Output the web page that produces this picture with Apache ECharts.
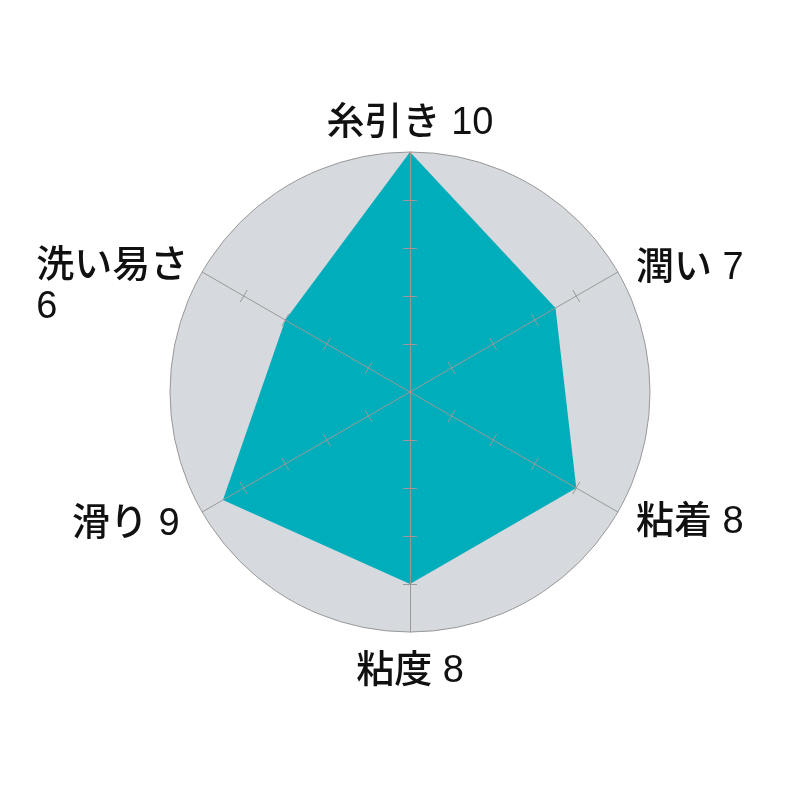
<!DOCTYPE html>
<html>
<head>
<meta charset="utf-8">
<script src="https://cdn.jsdelivr.net/npm/echarts@6/dist/echarts.min.js"></script>
<style>
  html, body { margin: 0; padding: 0; background: #fff; }
  #chart { width: 800px; height: 800px; }
</style>
</head>
<body>
<div id="chart"></div>
<script>
// 項目（上から反時計回り）
var names = ['糸引き', '洗い易さ', '滑り', '粘度', '粘着', '潤い'];
var values = [10, 6, 9, 8, 8, 7];
var maxValue = 10;

var chart = echarts.init(document.getElementById('chart'));

var center = [410, 392];
var radius = 240;
var tickColor = '#999';
var font = "'Liberation Sans', 'Noto Sans CJK JP'";

function labelOf(name) {
  var v = values[names.indexOf(name)];
  // 長い名前は改行して数値を左寄せ
  if (name.length > 3) return '{a|' + name + '}\n{n|' + v + '}';
  return name + ' ' + v;
}

// 項目名の位置の微調整
var nameGaps = [8, 16, 26, 19, 21, 21];
var nameStyles = [
  null,
  { verticalAlign: 'middle', padding: [46, 0, 0, 0] },
  null,
  null,
  null,
  { verticalAlign: 'middle', padding: [14, 0, 0, 0] }
];

// 背景・項目名用
var nameIndicator = names.map(function (n, i) {
  var o = { name: n, max: maxValue, min: 0, nameGap: nameGaps[i] };
  if (nameStyles[i]) o.nameTextStyle = nameStyles[i];
  return o;
});
var plainIndicator = names.map(function (n) {
  return { name: n, max: maxValue, min: 0 };
});
// 目盛りは 2〜8 だけ
var tickIndicator = names.map(function (n) {
  return { name: n, max: 8, min: 2 };
});

var baseRadar = {
  center: center,
  startAngle: 90,
  shape: 'circle',
  axisName: { show: false },
  splitArea: { show: false },
  splitLine: { show: false }
};

var textStyle = { fontSize: 38, lineHeight: 41, color: '#111', fontFamily: font, fontWeight: 500 };

var option = {
  backgroundColor: '#fff',
  radar: [
    {
      center: center,
      radius: radius,
      startAngle: 90,
      shape: 'circle',
      splitNumber: 1,
      indicator: nameIndicator,
      nameGap: 17,
      axisName: Object.assign({}, textStyle, {
        formatter: labelOf,
        rich: {
          a: Object.assign({}, textStyle),
          n: Object.assign({}, textStyle, { width: 150, align: 'left' })
        }
      }),
      splitArea: { show: true, areaStyle: { color: ['#d6d9de'] } },
      splitLine: { show: true, lineStyle: { color: tickColor, width: 1 } },
      axisLine: { show: false },
      axisTick: { show: false },
      z: 0
    },
    Object.assign({}, baseRadar, {
      // 軸線（塗りの上）
      radius: radius,
      splitNumber: 5,
      indicator: plainIndicator,
      axisLine: { show: true, lineStyle: { color: tickColor, width: 1 } },
      axisTick: { show: false },
      z: 3
    }),
    Object.assign({}, baseRadar, {
      radius: [radius * 0.2, radius * 0.8],
      splitNumber: 3,
      indicator: tickIndicator,
      axisLine: { show: true, lineStyle: { color: tickColor, opacity: 0 } },
      axisTick: { show: true, length: 7, lineStyle: { color: tickColor, width: 1 } },
      z: 3
    }),
    Object.assign({}, baseRadar, {
      radius: [radius * 0.2, radius * 0.8],
      splitNumber: 3,
      indicator: tickIndicator,
      axisLine: { show: true, lineStyle: { color: tickColor, opacity: 0 } },
      axisTick: { show: true, length: -7, lineStyle: { color: tickColor, width: 1 } },
      z: 3
    })
  ],
  series: [
    {
      type: 'radar',
      radarIndex: 0,
      symbol: 'none',
      silent: true,
      lineStyle: { width: 0 },
      areaStyle: { color: '#00adba', opacity: 1 },
      data: [{ value: values }]
    }
  ]
};

chart.setOption(option);
</script>
</body>
</html>
